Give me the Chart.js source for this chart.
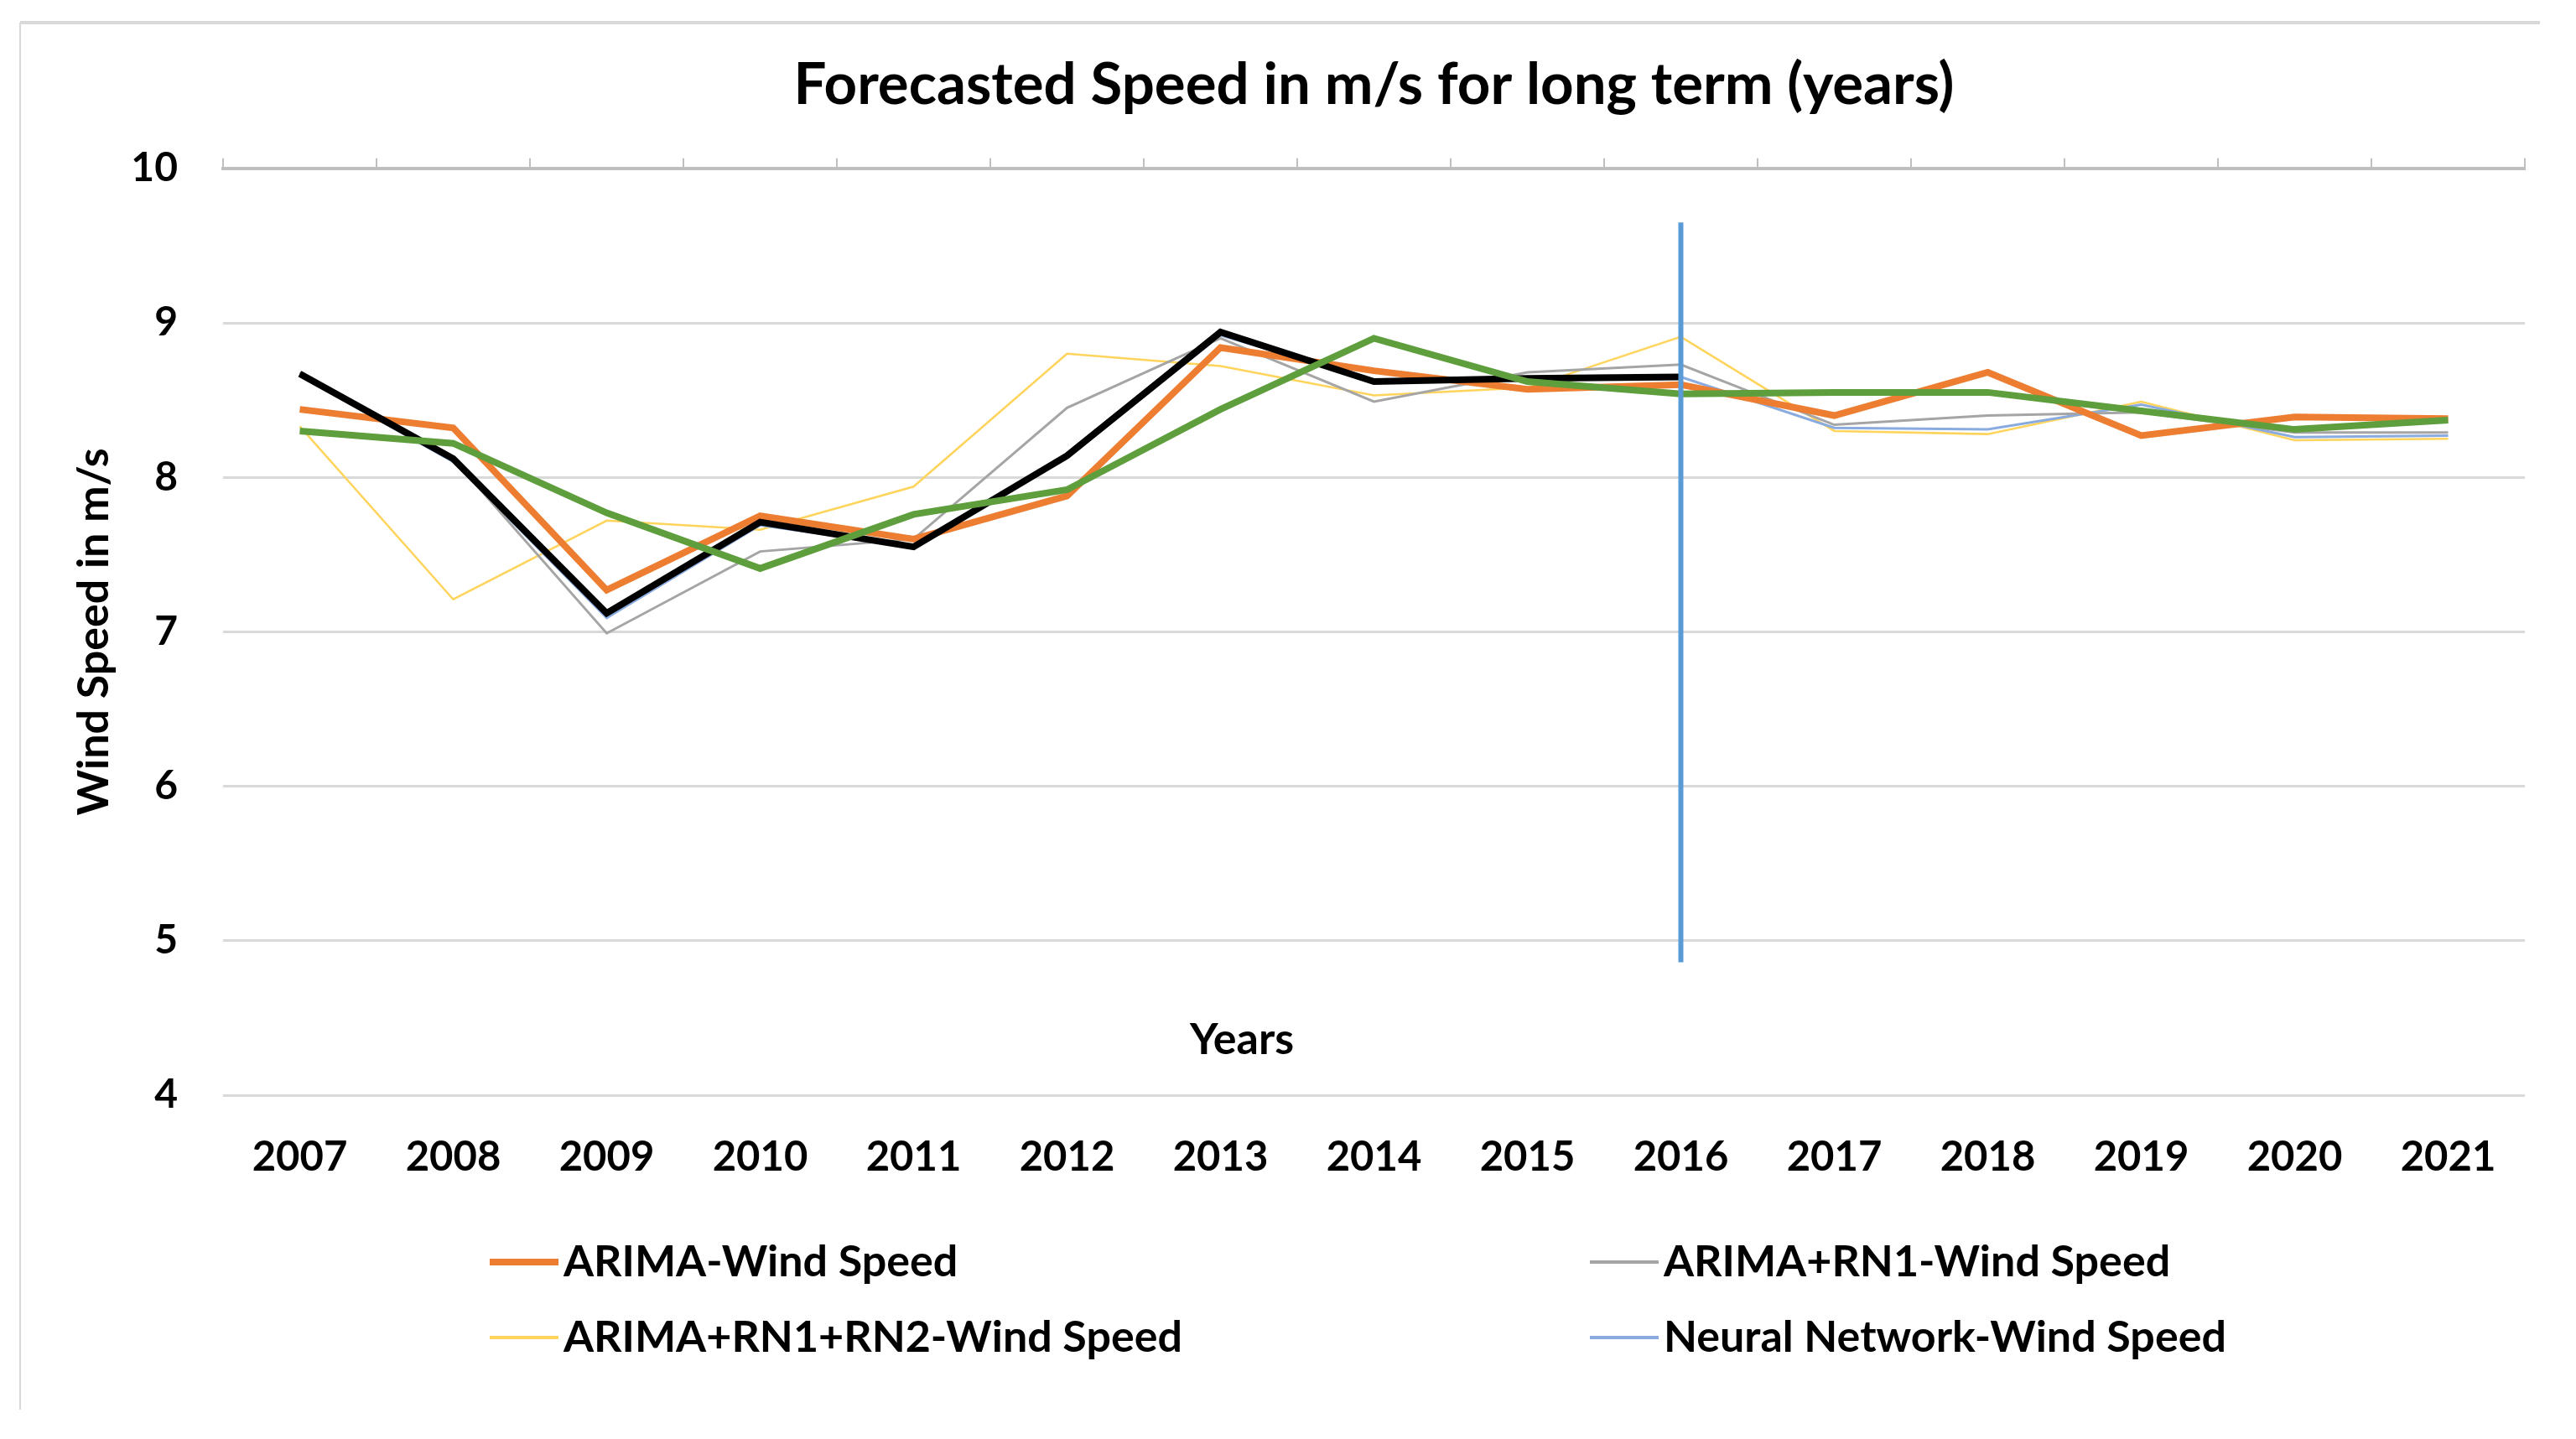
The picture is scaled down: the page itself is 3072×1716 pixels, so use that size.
<!DOCTYPE html>
<html>
<head>
<meta charset="utf-8">
<script src="https://cdn.jsdelivr.net/npm/chart.js@4.4.1/dist/chart.umd.min.js"></script>
<style>
  html, body { margin: 0; padding: 0; background: #fff; }
  #wrap { width: 3072px; height: 1716px; }
</style>
</head>
<body>
<div id="wrap"><canvas id="windChart" width="3072" height="1716"></canvas></div>
<script>
const years = ['2007', '2008', '2009', '2010', '2011', '2012', '2013', '2014', '2015', '2016', '2017', '2018', '2019', '2020', '2021'];
const yTicks = [4, 5, 6, 7, 8, 9, 10];

const arimaSpeed    = [8.44, 8.32, 7.27, 7.75, 7.60, 7.88, 8.84, 8.69, 8.57, 8.60, 8.40, 8.68, 8.27, 8.39, 8.38];
const arimaRn1Speed = [8.68, 8.12, 6.99, 7.52, 7.60, 8.45, 8.90, 8.49, 8.68, 8.73, 8.34, 8.40, 8.42, 8.29, 8.29];
const arimaRn2Speed = [8.33, 7.21, 7.72, 7.66, 7.94, 8.80, 8.72, 8.53, 8.58, 8.91, 8.30, 8.28, 8.49, 8.24, 8.25];
const neuralSpeed   = [8.66, 8.10, 7.09, 7.69, 7.55, 8.13, 8.92, 8.63, 8.64, 8.65, 8.32, 8.31, 8.47, 8.26, 8.27];
const actualSpeed   = [8.67, 8.12, 7.12, 7.71, 7.55, 8.14, 8.94, 8.62, 8.64, 8.65, null, null, null, null, null];
const smoothSpeed   = [8.30, 8.22, 7.77, 7.41, 7.76, 7.92, 8.44, 8.90, 8.62, 8.54, 8.55, 8.55, 8.43, 8.31, 8.37];

// vertical marker at the start of the forecast
const forecastYear = '2016';
const forecastMarker = [9.65, 4.86];

const FONT = 'Lato, "Open Sans", sans-serif';
Chart.defaults.font.family = FONT;
Chart.defaults.color = '#000';

function line(label, data, color, width, order, legend) {
    return {
        label, data,
        borderColor: color,
        backgroundColor: color,
        borderWidth: width,
        pointRadius: 0,
        tension: 0,
        fill: false,
        order,
        inLegend: legend
    };
}

const datasets = [
    line('ARIMA-Wind Speed', arimaSpeed, '#ED7D31', 8, 3, true),
    line('ARIMA+RN1-Wind Speed', arimaRn1Speed, '#A5A5A5', 3, 4, true),
    line('ARIMA+RN1+RN2-Wind Speed', arimaRn2Speed, '#FFD45C', 2.5, 6, true),
    line('Neural Network-Wind Speed', neuralSpeed, '#8AABDF', 3, 5, true),
    line('Actual', actualSpeed, '#000000', 8, 2, false),
    line('Trend', smoothSpeed, '#5E9E3C', 8, 1, false),
    line('Forecast start', forecastMarker.map(v => ({ x: forecastYear, y: v })), '#5B9BD5', 6, 0, false)
];

// frame, inner axis title and the two-column legend
const extras = {
    id: 'extras',
    beforeDraw(chart) {
        const c = chart.ctx;
        c.save();
        c.strokeStyle = '#D9D9D9';
        c.lineWidth = 4;
        c.beginPath();
        c.moveTo(24, 27);
        c.lineTo(3029, 27);
        c.stroke();
        c.lineWidth = 2;
        c.beginPath();
        c.moveTo(24, 27);
        c.lineTo(24, 1681);
        c.stroke();
        c.restore();
    },
    afterDraw(chart) {
        const c = chart.ctx;
        c.save();
        c.fillStyle = '#000';
        c.font = 'bold 52px ' + FONT;
        c.textAlign = 'center';
        c.textBaseline = 'middle';
        c.fillText('Years', 1481, 1240);

        const cols = [584, 1896];
        const rows = [1505, 1595];
        const items = chart.data.datasets.filter(d => d.inLegend);
        items.forEach((d, i) => {
            const x = cols[i % 2];
            const y = rows[Math.floor(i / 2)];
            c.strokeStyle = d.borderColor;
            c.lineWidth = Math.max(d.borderWidth, 4);
            c.beginPath();
            c.moveTo(x, y);
            c.lineTo(x + 82, y);
            c.stroke();
            c.textAlign = 'left';
            c.fillText(d.label, x + 88, y);
        });
        c.restore();
    }
};

new Chart(document.getElementById('windChart'), {
    type: 'line',
    data: { labels: years, datasets },
    options: {
        responsive: false,
        animation: false,
        devicePixelRatio: 1,
        layout: { padding: { left: 0, right: 61, top: 0, bottom: 260 } },
        plugins: {
            legend: { display: false },
            tooltip: { enabled: false },
            title: {
                display: true,
                text: 'Forecasted Speed in m/s for long term (years)',
                fullSize: false,
                color: '#000',
                font: { size: 69, weight: 'bold' },
                padding: { top: 60, bottom: 46 }
            }
        },
        scales: {
            x: {
                position: 'bottom',
                offset: true,
                grid: { display: false },
                border: { display: false },
                ticks: { font: { size: 49, weight: 'bold' }, padding: 37, maxRotation: 0, autoSkip: false },
                afterFit: s => { s.height = 150; }
            },
            xTop: {
                type: 'category',
                position: 'top',
                offset: true,
                grid: { offset: true, drawOnChartArea: false, tickLength: 12, color: '#BFBFBF', lineWidth: 2 },
                border: { color: '#BFBFBF', width: 4 },
                ticks: { display: false },
                afterFit: s => { s.height = 12; }
            },
            y: {
                min: yTicks[0],
                max: yTicks[yTicks.length - 1],
                afterBuildTicks: s => { s.ticks = yTicks.map(v => ({ value: v })); },
                ticks: { font: { size: 48, weight: 'bold' }, padding: 54 },
                grid: {
                    color: c => c.tick && c.tick.value === 10 ? 'rgba(0,0,0,0)' : '#D9D9D9',
                    lineWidth: 3,
                    drawTicks: false
                },
                border: { display: false },
                title: {
                    display: true,
                    text: 'Wind Speed in m/s',
                    font: { size: 52, weight: 'bold' },
                    padding: { top: 81, bottom: 0 }
                },
                afterFit: s => { s.width = 266; }
            }
        }
    },
    plugins: [extras]
});
</script>
</body>
</html>
